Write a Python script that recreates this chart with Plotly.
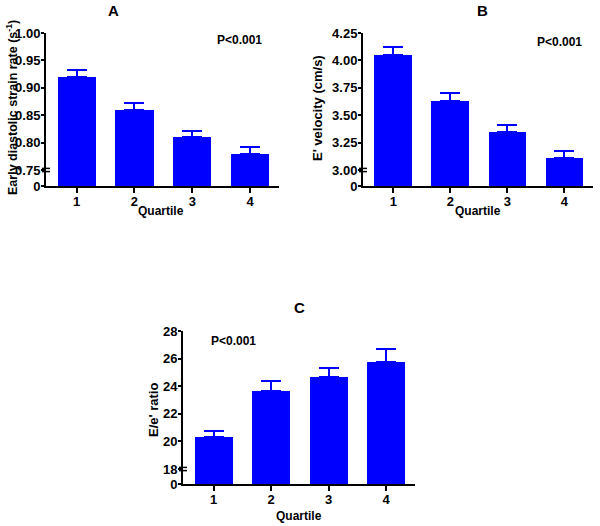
import plotly.graph_objects as go

quartiles = [1, 2, 3, 4]

# Panel A: early diastolic strain rate
a_vals = [0.920, 0.860, 0.810, 0.780]
a_err = [0.013, 0.012, 0.011, 0.012]
# Panel B: E' velocity
b_vals = [4.05, 3.63, 3.35, 3.11]
b_err = [0.07, 0.07, 0.06, 0.06]
# Panel C: E/e' ratio
c_vals = [20.3, 23.65, 24.65, 25.75]
c_err = [0.45, 0.7, 0.7, 0.92]

W, H = 600, 526
FONT = "Liberation Sans, Arial, sans-serif"
BLUE = "#0000ff"


def px(x):
    return x / W


def py(y):
    return 1 - y / H


fig = go.Figure()
layout = {}
shapes = []
annotations = []


def panel(idx, x0, x1, ytop, ybrk, ybot, vals, errs, top_range, top_ticks, tick_fmt):
    n_top = 2 * idx - 1
    n_bot = 2 * idx
    sx_t = "" if n_top == 1 else str(n_top)
    sx_b = str(n_bot)
    tickfont = dict(family=FONT, size=13, color="black", weight="bold")
    # top segment
    fig.add_trace(go.Bar(
        x=quartiles, y=vals, width=0.66, marker=dict(color=BLUE, line=dict(width=0)),
        error_y=dict(type="data", array=errs, arrayminus=[0] * len(errs), symmetric=False,
                     color=BLUE, thickness=2, width=10),
        xaxis="x" + sx_t, yaxis="y" + sx_t, showlegend=False, hoverinfo="skip"))
    # bottom segment
    fig.add_trace(go.Bar(
        x=quartiles, y=vals, width=0.66, marker=dict(color=BLUE, line=dict(width=0)),
        xaxis="x" + sx_b, yaxis="y" + sx_b, showlegend=False, hoverinfo="skip"))
    xr = [0.47, 4.5]
    layout["xaxis" + sx_t] = dict(domain=[px(x0), px(x1)], range=xr, visible=False,
                                  automargin=False, anchor="y" + sx_t)
    layout["yaxis" + sx_t] = dict(
        domain=[py(ybrk), py(ytop)], range=top_range, tickvals=top_ticks,
        ticktext=[tick_fmt.format(v) for v in top_ticks],
        showline=True, linecolor="black", linewidth=2, ticks="outside", ticklen=3,
        tickwidth=2, tickcolor="black", showgrid=False, zeroline=False,
        automargin=False, tickfont=tickfont, ticklabelstandoff=-2, anchor="x" + sx_t)
    layout["xaxis" + sx_b] = dict(
        domain=[px(x0), px(x1)], range=xr, tickvals=quartiles,
        ticktext=[str(q) for q in quartiles],
        showline=True, linecolor="black", linewidth=2, ticks="outside", ticklen=5,
        tickwidth=2, tickcolor="black", showgrid=False, zeroline=False,
        automargin=False, tickfont=tickfont, ticklabelstandoff=-3, anchor="y" + sx_b)
    # bottom segment overlaps the top by 1px to avoid a seam in the bars
    layout["yaxis" + sx_b] = dict(
        domain=[py(ybot), py(ybrk - 1)], range=[0, top_range[0]], tickvals=[0],
        ticktext=["0"],
        showline=True, linecolor="black", linewidth=2, ticks="outside", ticklen=3,
        tickwidth=2, tickcolor="black", showgrid=False, zeroline=False,
        automargin=False, tickfont=tickfont, ticklabelstandoff=-2, anchor="x" + sx_b)
    # break marks
    for dy in (-1.6, 1.6):
        shapes.append(dict(type="line", xref="paper", yref="paper",
                           x0=px(x0 - 4), x1=px(x0 + 4),
                           y0=py(ybrk + dy), y1=py(ybrk + dy),
                           line=dict(color="black", width=1.5)))


panel(1, 46, 279, 33, 170, 186, a_vals, a_err, [0.75, 1.00],
      [0.75, 0.80, 0.85, 0.90, 0.95, 1.00], "{:.2f}")
panel(2, 363, 593, 33, 170, 186, b_vals, b_err, [3.00, 4.25],
      [3.00, 3.25, 3.50, 3.75, 4.00, 4.25], "{:.2f}")
panel(3, 183, 415, 331, 469, 484, c_vals, c_err, [18, 28],
      [18, 20, 22, 24, 26, 28], "{:d}")


def ann(text, x, y, size=12, angle=0, xanchor="center"):
    annotations.append(dict(
        text=text, x=px(x), y=py(y), xref="paper", yref="paper", showarrow=False,
        textangle=angle, xanchor=xanchor, yanchor="middle", borderpad=0,
        font=dict(family=FONT, size=size, color="black", weight="bold")))


ann("A", 113, 10, size=15)
ann("B", 482, 10, size=15)
ann("C", 299, 307, size=15)
ann("P<0.001", 216, 40, xanchor="left")
ann("P<0.001", 536, 42, xanchor="left")
ann("P<0.001", 210, 341, xanchor="left")
ann("Quartile", 161, 211)
ann("Quartile", 478, 211)
ann("Quartile", 299, 516)
ann("Early diastolic strain rate (s<sup>-1</sup>)", 12, 108, size=12.5, angle=-90)
ann("E' velocity (cm/s)", 318, 108, size=13, angle=-90)
ann("E/e' ratio", 153, 410, size=13, angle=-90)

fig.update_layout(
    template="none",
    width=W, height=H, margin=dict(l=0, r=0, t=0, b=0, pad=0, autoexpand=False),
    paper_bgcolor="white", plot_bgcolor="rgba(0,0,0,0)", bargap=0,
    shapes=shapes, annotations=annotations, **layout)

post = (
    "var h=document.documentElement.style;h.margin='0';h.padding='0';"
    "h.overflow='hidden';"
    "var b=document.body.style;b.margin='0';b.padding='0';b.overflow='hidden';"
)

fig.write_html("out.html", config={"displayModeBar": False}, post_script=post)
